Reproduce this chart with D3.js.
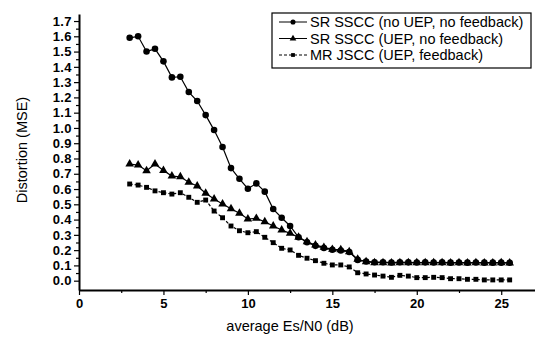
<!DOCTYPE html>
<html>
<head>
<meta charset="utf-8">
<script src="https://cdn.jsdelivr.net/npm/d3@7"></script>
<style>
  body { margin: 0; background: #fff; }
  svg { display: block; }
  .tick text { font-family: "Liberation Sans", Arial, sans-serif; font-weight: bold; }
</style>
</head>
<body>
<svg id="chart" width="535" height="337"></svg>
<script>
// Es/N0 values (dB), 0.5 step from 3 to 25.5
const snr = [3, 3.5, 4, 4.5, 5, 5.5, 6, 6.5, 7, 7.5, 8, 8.5, 9, 9.5, 10, 10.5, 11, 11.5, 12, 12.5,
  13, 13.5, 14, 14.5, 15, 15.5, 16, 16.5, 17, 17.5, 18, 18.5, 19, 19.5, 20, 20.5, 21, 21.5, 22, 22.5,
  23, 23.5, 24, 24.5, 25, 25.5];

const srNoUep = [1.59, 1.60, 1.50, 1.518, 1.436, 1.331, 1.335, 1.235, 1.176, 1.084, 0.986, 0.875, 0.737, 0.667,
  0.602, 0.637, 0.583, 0.469, 0.412, 0.358, 0.284, 0.252, 0.228, 0.214, 0.202, 0.198, 0.188, 0.136, 0.126, 0.121,
  0.121, 0.119, 0.121, 0.120, 0.119, 0.120, 0.119, 0.120, 0.118, 0.119, 0.118, 0.119, 0.118, 0.118, 0.118, 0.117];

const srUep = [0.764, 0.757, 0.72, 0.764, 0.722, 0.685, 0.68, 0.644, 0.62, 0.572, 0.535, 0.502, 0.471, 0.441,
  0.404, 0.408, 0.386, 0.358, 0.332, 0.31, 0.284, 0.255, 0.234, 0.218, 0.205, 0.203, 0.19, 0.14, 0.124, 0.118,
  0.118, 0.116, 0.118, 0.117, 0.117, 0.118, 0.117, 0.117, 0.116, 0.117, 0.116, 0.117, 0.116, 0.116, 0.117, 0.116];

const mrJscc = [0.633, 0.626, 0.611, 0.588, 0.576, 0.567, 0.576, 0.546, 0.513, 0.528, 0.456, 0.412, 0.358, 0.327,
  0.314, 0.321, 0.284, 0.249, 0.212, 0.201, 0.166, 0.147, 0.131, 0.114, 0.103, 0.103, 0.09, 0.052, 0.044, 0.037,
  0.03, 0.022, 0.035, 0.03, 0.02, 0.02, 0.022, 0.02, 0.013, 0.013, 0.009, 0.009, 0.005, 0.005, 0.005, 0.005];

const seriesNames = ["SR SSCC (no UEP, no feedback)", "SR SSCC (UEP, no feedback)", "MR JSCC (UEP, feedback)"];
const xTicks = [0, 5, 10, 15, 20, 25];
const yTicks = [0, 0.1, 0.2, 0.3, 0.4, 0.5, 0.6, 0.7, 0.8, 0.9, 1.0, 1.1, 1.2, 1.3, 1.4, 1.5, 1.6, 1.7];

const svg = d3.select("#chart");
const mLeft = 79, mRight = 535, mTop = 14, mBottom = 290;

const x = d3.scaleLinear().domain([0, 27]).range([mLeft, mRight]);
const y = d3.scaleLinear().domain([-0.061, 1.746]).range([mBottom, mTop]);

// minor ticks first
svg.append("g")
  .attr("transform", "translate(0," + mBottom + ")")
  .call(d3.axisBottom(x).tickValues(d3.range(2.5, 27, 5)).tickSize(3).tickFormat(""))
  .call(g => g.select(".domain").remove());
svg.append("g")
  .attr("transform", "translate(" + mLeft + ",0)")
  .call(d3.axisLeft(y).tickValues(d3.range(0.05, 1.7, 0.1)).tickSize(3).tickFormat(""))
  .call(g => g.select(".domain").remove());

const xAxis = svg.append("g")
  .attr("transform", "translate(0," + mBottom + ")")
  .call(d3.axisBottom(x).tickValues(xTicks).tickSize(5).tickSizeOuter(0).tickPadding(4));
xAxis.selectAll("text").style("font-size", "13px");

const yAxis = svg.append("g")
  .attr("transform", "translate(" + mLeft + ",0)")
  .call(d3.axisLeft(y).tickValues(yTicks).tickSize(5).tickSizeOuter(0).tickPadding(2)
    .tickFormat(d3.format(".1f")));
yAxis.selectAll("text").style("font-size", "13px").style("letter-spacing", "0.4px");

svg.selectAll(".domain").attr("stroke-width", 2);
svg.selectAll(".tick line").attr("stroke-width", 1.2);

// axis titles
svg.append("text")
  .attr("x", 290).attr("y", 331)
  .attr("text-anchor", "middle")
  .style("font-family", "Liberation Sans, Arial, sans-serif")
  .style("font-size", "14.5px")
  .text("average Es/N0 (dB)");

svg.append("text")
  .attr("transform", "translate(27,150) rotate(-90)")
  .attr("text-anchor", "middle")
  .style("font-family", "Liberation Sans, Arial, sans-serif")
  .style("font-size", "14.5px")
  .text("Distortion (MSE)");

// series
const allSeries = [srNoUep, srUep, mrJscc];
const dashes = [null, null, "3,2"];
const symbols = [d3.symbolCircle, d3.symbolTriangle, d3.symbolSquare];
const symSizes = [34, 32, 24];

const line = d3.line().x((d, i) => x(snr[i])).y(d => y(d));

allSeries.forEach((vals, s) => {
  svg.append("path")
    .datum(vals)
    .attr("fill", "none")
    .attr("stroke", "#000")
    .attr("stroke-width", 1.2)
    .attr("stroke-dasharray", dashes[s])
    .attr("d", line);
  svg.append("g").selectAll("path")
    .data(vals)
    .enter().append("path")
    .attr("transform", (d, i) => "translate(" + x(snr[i]) + "," + y(d) + ")")
    .attr("d", d3.symbol().type(symbols[s]).size(symSizes[s]))
    .attr("fill", "#000");
});

// legend
const legend = svg.append("g").attr("transform", "translate(272,13)");
legend.append("rect")
  .attr("width", 259).attr("height", 55)
  .attr("fill", "#fff").attr("stroke", "#000").attr("stroke-width", 1.2);

const legRow = legend.selectAll(".legend")
  .data(seriesNames)
  .enter().append("g")
  .attr("class", "legend")
  .attr("transform", (d, i) => "translate(0," + (9 + i * 16.5) + ")");

legRow.append("line")
  .attr("x1", 7).attr("x2", 35)
  .attr("stroke", "#000").attr("stroke-width", 1)
  .attr("stroke-dasharray", (d, i) => dashes[i]);
legRow.append("path")
  .attr("transform", "translate(21,0)")
  .attr("d", (d, i) => d3.symbol().type(symbols[i]).size(symSizes[i] * 0.6)())
  .attr("fill", "#000");
legRow.append("text")
  .attr("x", 38).attr("y", 5)
  .style("font-family", "Liberation Sans Narrow, Liberation Sans, Arial, sans-serif")
  .style("font-size", "14.5px")
  .text(d => d);
</script>
</body>
</html>
